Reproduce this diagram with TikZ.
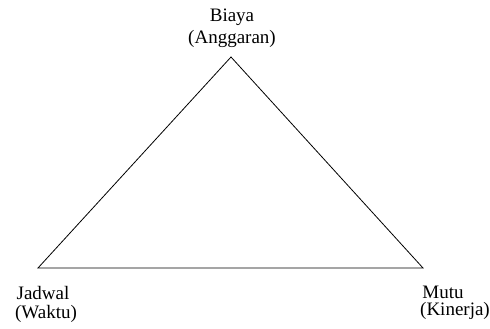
\documentclass[tikz,border=0pt]{standalone}
\usepackage{fontspec}
\setmainfont{Liberation Serif}
\begin{document}
\begin{tikzpicture}[x=1pt,y=-1pt,
  lbl/.style={inner sep=0pt,font=\fontsize{19}{22}\selectfont}]
\useasboundingbox (0,0) rectangle (490,329);
\coordinate (top) at (231,57);
\coordinate (bl) at (38,268);
\coordinate (br) at (423,268);
\draw[line width=0.8pt] (top) -- (br) -- (bl) -- cycle;
\node[lbl] (biaya) at (232,17) {Biaya};
\node[lbl] (angg) at (232,39) {(Anggaran)};
\node[lbl] (jadwal) at (43,293) {Jadwal};
\node[lbl] (waktu) at (46,314) {(Waktu)};
\node[lbl] (mutu) at (443,292) {Mutu};
\node[lbl] (kinerja) at (455,311) {(Kinerja)};
\end{tikzpicture}
\end{document}
